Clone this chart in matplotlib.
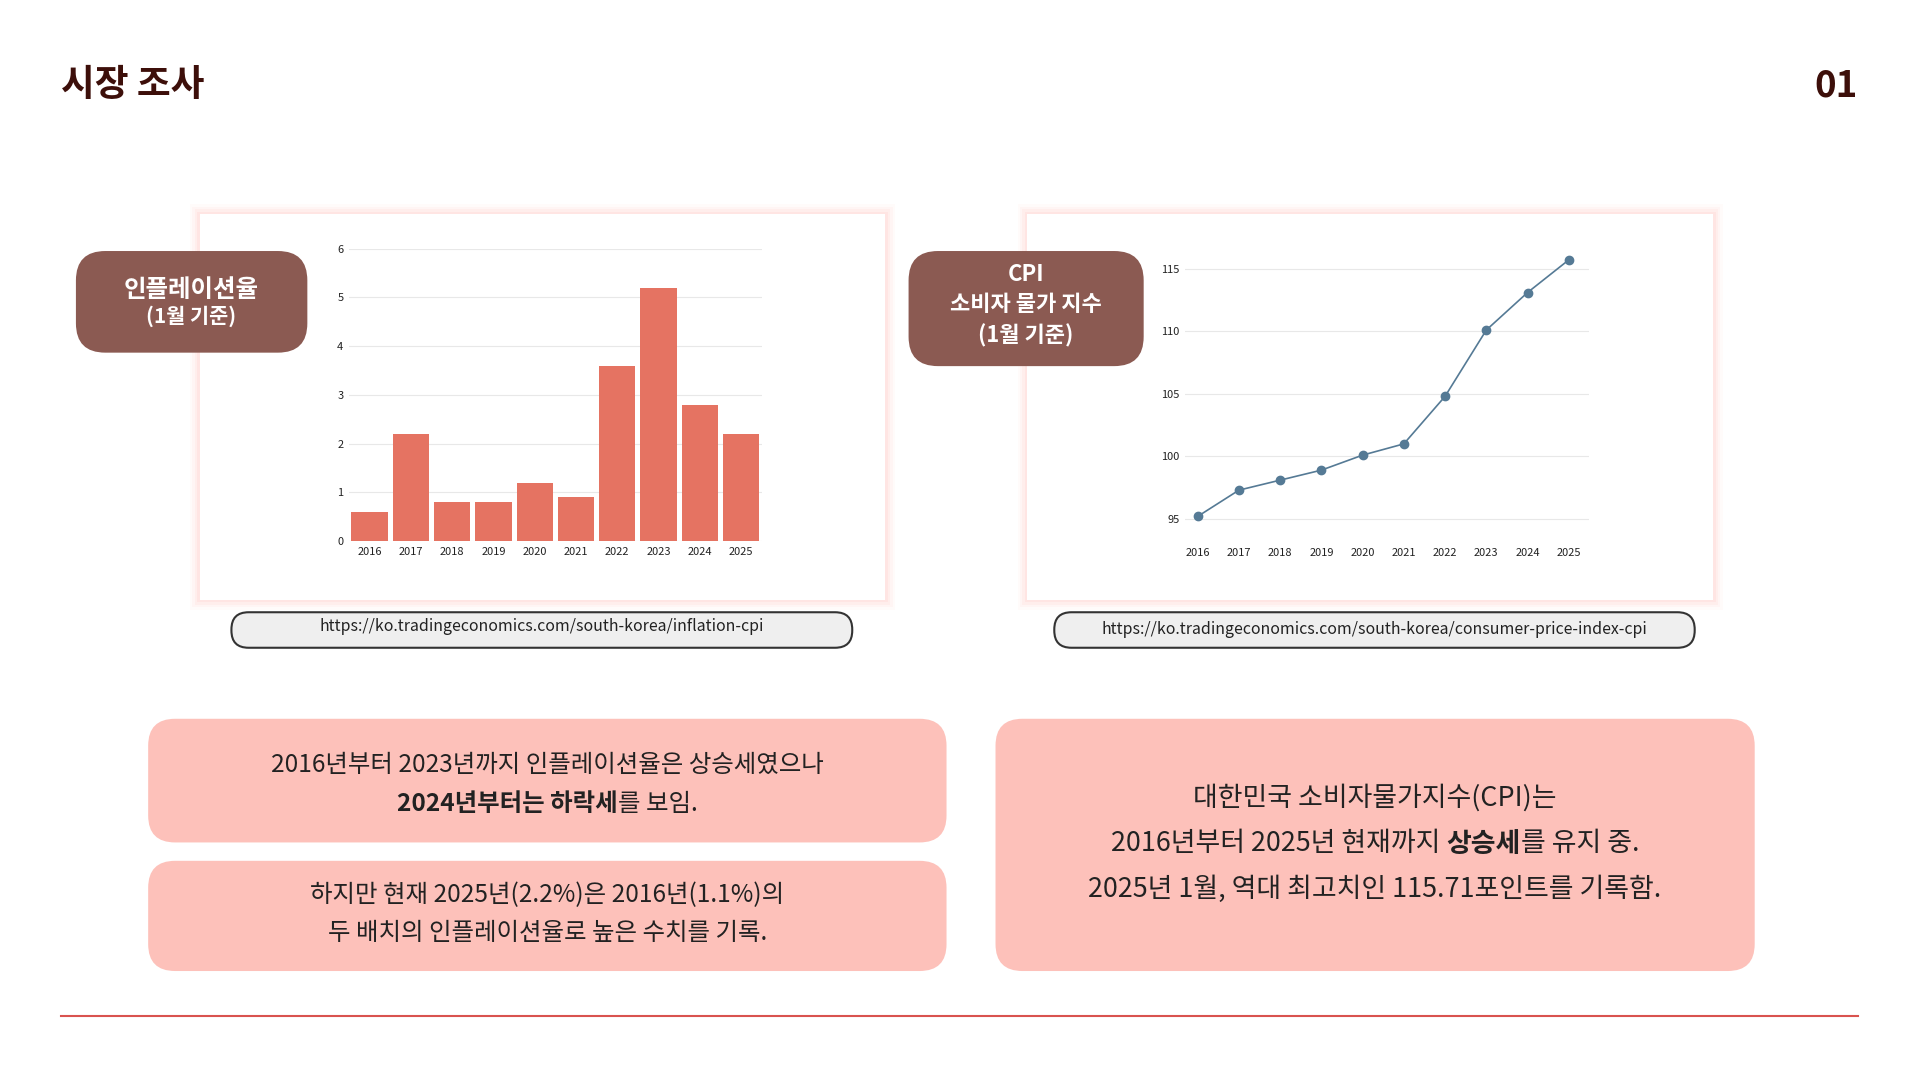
import matplotlib
matplotlib.use("Agg")
import matplotlib.pyplot as plt
from matplotlib.patches import FancyBboxPatch, Rectangle

plt.rcParams['font.family'] = ['Noto Sans CJK KR', 'DejaVu Sans']

years = ['2016', '2017', '2018', '2019', '2020', '2021', '2022', '2023', '2024', '2025']
inflation = [0.6, 2.2, 0.8, 0.8, 1.2, 0.9, 3.6, 5.2, 2.8, 2.2]
cpi = [95.2, 97.3, 98.1, 98.9, 100.1, 101.0, 104.8, 110.1, 113.1, 115.71]

W, H = 1568, 882
S = 1920 / W  # ref px -> output px
PT = S * 72 / 100  # ref px -> points

fig = plt.figure(figsize=(19.2, 10.8), dpi=100)
fig.patch.set_facecolor('white')
bg = fig.add_axes([0, 0, 1, 1])
bg.set_xlim(0, W)
bg.set_ylim(H, 0)
bg.axis('off')

DARK = '#3d0f0a'
BROWN = '#8b5a52'
PINK = '#fdc1ba'


def rbox(x0, y0, x1, y1, fc, ec='none', r=18, lw=0, z=1):
    bg.add_patch(FancyBboxPatch((x0 + r, y0 + r), x1 - x0 - 2 * r, y1 - y0 - 2 * r,
                                boxstyle=f"round,pad={r}", fc=fc, ec=ec, lw=lw, zorder=z))


def card(x0, y0, x1, y1):
    for i, a in enumerate([0.05, 0.07, 0.1, 0.14]):
        d = 8 - 2 * i
        bg.add_patch(Rectangle((x0 - d, y0 - d), x1 - x0 + 2 * d, y1 - y0 + 2 * d,
                               fc='#ffb3ad', ec='none', alpha=a, zorder=1))
    bg.add_patch(Rectangle((x0, y0), x1 - x0, y1 - y0, fc='white', ec='none', zorder=2))


def rich(cx, cy, runs, size, color='#222222'):
    # runs: list of (text, bold); centered horizontally at cx
    fig.canvas.draw()
    r = fig.canvas.get_renderer()
    arts, total = [], 0
    for t, b in runs:
        a = bg.text(0, cy, t, fontsize=size, fontweight='bold' if b else 'normal',
                    color=color, va='center', ha='left', zorder=5)
        bb = a.get_window_extent(r)
        w = bb.width / S
        arts.append((a, w))
        total += w
    x = cx - total / 2
    for a, w in arts:
        a.set_x(x)
        x += w


# header
bg.text(50, 70, '시장 조사', fontsize=30 * PT, fontweight='bold', color=DARK, va='center')
bg.text(1517, 70, '01', fontsize=30 * PT, fontweight='bold', color=DARK, va='center', ha='right')
bg.plot([50, 1517], [830, 830], color='#d9534f', lw=1.5)

# cards
card(163, 175, 723, 490)
card(839, 175, 1399, 490)


def ax_px(x0, y0, x1, y1):
    return fig.add_axes([x0 / W, 1 - y1 / H, (x1 - x0) / W, (y1 - y0) / H], zorder=3)


def style(ax):
    ax.set_facecolor('none')
    for s in ax.spines.values():
        s.set_visible(False)
    ax.tick_params(length=0, labelsize=9 * PT, colors='#222222', pad=4)
    ax.grid(axis='y', color='#e8e8e8', lw=0.8)
    ax.set_axisbelow(True)


ax1 = ax_px(285, 203, 622, 442)
style(ax1)
ax1.bar(range(len(years)), inflation, width=0.88, color='#e57362')
ax1.set_xlim(-0.5, len(years) - 0.5)
ax1.set_ylim(0, 6)
ax1.set_yticks(range(7))
ax1.set_xticks(range(len(years)), years)

ax2 = ax_px(968, 196, 1298, 434)
style(ax2)
ax2.plot(range(len(years)), cpi, color='#557a95', lw=1.2, marker='o', ms=6)
ax2.set_xlim(-0.3, len(years) - 0.5)
ax2.set_ylim(94, 117.3)
ax2.set_yticks([95, 100, 105, 110, 115])
ax2.set_xticks(range(len(years)), years)
ax2.tick_params(axis='x', pad=12)

# label boxes
rbox(62, 205, 251, 288, BROWN, r=24, z=6)
bg.text(156, 237, '인플레이션율', fontsize=20 * PT, fontweight='bold', color='white', ha='center', va='center', zorder=7)
bg.text(156, 258, '(1월 기준)', fontsize=17 * PT, fontweight='bold', color='white', ha='center', va='center', zorder=7)
rbox(742, 205, 934, 299, BROWN, r=24, z=6)
for y, t in [(224, 'CPI'), (249, '소비자 물가 지수'), (274, '(1월 기준)')]:
    bg.text(838, y, t, fontsize=18 * PT, fontweight='bold', color='white', ha='center', va='center', zorder=7)

# url pills
rbox(189, 500, 696, 529, '#efefef', ec='#333333', r=14, lw=1.5)
bg.text(442, 512, 'https://ko.tradingeconomics.com/south-korea/inflation-cpi', fontsize=13 * PT,
        color='#222222', ha='center', va='center', zorder=5)
rbox(861, 500, 1384, 529, '#efefef', ec='#333333', r=14, lw=1.5)
bg.text(1122, 514, 'https://ko.tradingeconomics.com/south-korea/consumer-price-index-cpi', fontsize=13 * PT,
        color='#222222', ha='center', va='center', zorder=5)

# text boxes
rbox(121, 587, 773, 688, PINK, r=22)
rbox(121, 703, 773, 793, PINK, r=22)
rbox(813, 587, 1433, 793, PINK, r=22)

fs = 20 * PT
rich(447, 625, [('2016년부터 2023년까지 인플레이션율은 상승세였으나', False)], fs)
rich(447, 657, [('2024년부터는 하락세', True), ('를 보임.', False)], fs)
rich(447, 731, [('하지만 현재 2025년(2.2%)은 2016년(1.1%)의', False)], fs)
rich(447, 762, [('두 배치의 인플레이션율로 높은 수치를 기록.', False)], fs)
rich(1123, 652, [('대한민국 소비자물가지수(CPI)는', False)], 22 * PT)
rich(1123, 689, [('2016년부터 2025년 현재까지 ', False), ('상승세', True), ('를 유지 중.', False)], 22 * PT)
rich(1123, 726, [('2025년 1월, 역대 최고치인 115.71포인트를 기록함.', False)], 22 * PT)

fig.savefig('out.png', dpi=100, facecolor='white')
